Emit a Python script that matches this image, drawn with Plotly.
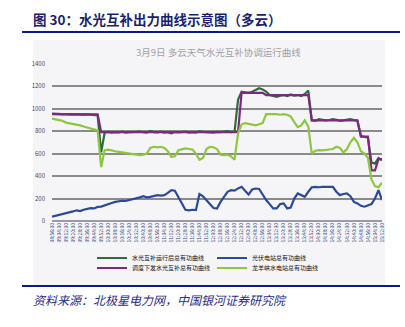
import pandas as pd
import plotly.graph_objects as go

# ---- data (4-minute samples, 08:56 - 15:12) ----
times = pd.date_range("2019-03-09 08:56:00", periods=95, freq="4min")

total_actual = [950, 948, 952, 947, 950, 945, 948, 950, 946, 944, 948, 945, 943, 940, 610,
                785, 792, 786, 790, 788, 795, 785, 790, 788, 792, 795, 790, 785, 800, 790,
                788, 795, 786, 790, 780, 792, 788, 790, 795, 786, 790, 785, 800, 792, 788,
                790, 785, 792, 790, 795, 800, 790, 795, 1080, 1150, 1145, 1140, 1150, 1165, 1180,
                1170, 1150, 1120, 1110, 1105, 1115, 1120, 1110, 1125, 1115, 1120, 1110, 1130, 1160, 895,
                890, 905, 900, 895, 898, 905, 900, 890, 895, 900, 905, 898, 890, 755, 745,
                740, 520, 510, 560, 540]

pv = [38, 45, 55, 60, 70, 75, 85, 95, 88, 100, 110, 115, 112, 125, 128,
      140, 155, 160, 170, 175, 180, 178, 185, 195, 205, 210, 220, 210, 214, 225,
      230, 225, 230, 250, 275, 270, 215, 150, 100, 95, 100, 98, 240, 220, 186,
      150, 115, 110, 170, 215, 260, 274, 270, 290, 304, 270, 235, 280, 289, 285,
      230, 186, 150, 112, 112, 150, 156, 112, 120, 200, 245, 230, 215, 260, 300,
      304, 300, 304, 302, 300, 304, 260, 230, 240, 245, 220, 170, 156, 135, 127,
      140, 150, 200, 274, 186]

plan = [955, 952, 950, 950, 950, 950, 950, 950, 950, 950, 950, 948, 948, 948, 790,
        790, 790, 790, 790, 790, 790, 790, 790, 790, 790, 790, 790, 790, 790, 790,
        790, 790, 790, 790, 790, 790, 790, 790, 790, 790, 790, 790, 790, 790, 790,
        790, 790, 790, 790, 790, 790, 790, 790, 790, 1140, 1140, 1140, 1140, 1140, 1140,
        1140, 1120, 1120, 1120, 1120, 1120, 1120, 1120, 1120, 1120, 1120, 1120, 1120, 1120, 895,
        895, 895, 895, 895, 895, 895, 895, 895, 895, 895, 895, 895, 895, 750, 750,
        750, 450, 450, 550, 550]

hydro = [910, 905, 895, 890, 875, 870, 862, 858, 850, 840, 832, 825, 815, 805, 480,
         630, 635, 625, 620, 615, 610, 605, 600, 590, 585, 585, 590, 600, 650, 660,
         655, 660, 650, 620, 570, 575, 630, 640, 645, 640, 635, 600, 545, 560, 640,
         660, 655, 640, 590, 585, 590, 575, 545, 780, 860, 870, 865, 855, 850, 860,
         870, 950, 950, 955, 950, 945, 950, 945, 930, 880, 835, 850, 895, 840, 600,
         625, 630, 628, 632, 630, 640, 660, 650, 610, 640, 700, 740, 700, 620, 600,
         560, 370, 310, 300, 340]

names = ["水光互补运行后总有功曲线", "光伏电站总有功曲线",
         "调度下发水光互补总有功曲线", "龙羊峡水电站总有功曲线"]
colors = ["#2f6b3c", "#2b4a9c", "#7d2a7e", "#8dc63f"]

y_ticks = [0, 200, 400, 600, 800, 1000, 1200, 1400]

FONT = "Noto Sans CJK SC"

fig = go.Figure()
fig.add_trace(go.Scatter(x=times, y=total_actual, name=names[0], mode="lines",
                         line=dict(color=colors[0], width=2.2), legend="legend"))
fig.add_trace(go.Scatter(x=times, y=pv, name=names[1], mode="lines",
                         line=dict(color=colors[1], width=2.2), legend="legend"))
fig.add_trace(go.Scatter(x=times, y=plan, name=names[2], mode="lines",
                         line=dict(color=colors[2], width=2.2), legend="legend2"))
fig.add_trace(go.Scatter(x=times, y=hydro, name=names[3], mode="lines",
                         line=dict(color=colors[3], width=2.2), legend="legend2"))

W, H = 405, 327
L, R, T, B = 52, 23, 63, 106
pw, ph = W - L - R, H - T - B


def px(x):
    return (x - L) / pw


def py(y):
    return (H - B - y) / ph


legend_common = dict(orientation="h", xanchor="left", yanchor="middle",
                     font=dict(family=FONT, size=6, color="#111"),
                     bgcolor="rgba(0,0,0,0)", itemwidth=30,
                     entrywidth=75, entrywidthmode="pixels",
                     tracegroupgap=0, itemclick=False)

fig.update_layout(
    width=W, height=H,
    margin=dict(l=L, r=R, t=T, b=B, autoexpand=False),
    paper_bgcolor="white",
    plot_bgcolor="rgba(0,0,0,0)",
    font=dict(family=FONT),
    showlegend=True,
    legend=dict(x=px(92), y=py(258), **legend_common),
    legend2=dict(x=px(92), y=py(268), **legend_common),
    xaxis=dict(type="date", range=[times[0], times[-1]],
               tick0=times[0], dtick=8 * 60 * 1000, tickformat="%H:%M:%S",
               tickangle=-90, tickfont=dict(size=5, color="#3a4a7a", family=FONT),
               showgrid=False, showline=False, zeroline=False, ticks=""),
    yaxis=dict(range=[0, 1405], tickvals=y_ticks,
               tickfont=dict(size=6, color="#3a4a7a", family=FONT),
               showgrid=True, gridcolor="#8a8a8a", gridwidth=1.6,
               zeroline=True, zerolinecolor="#9a9aa8", zerolinewidth=1.6,
               showline=False, ticks="", ticklabelstandoff=6),
    shapes=[
        dict(type="rect", xref="paper", yref="paper",
             x0=px(33), x1=px(385), y0=py(285), y1=py(40),
             fillcolor="#f5f5f7", line=dict(width=0), layer="below"),
        dict(type="line", xref="paper", yref="paper",
             x0=px(22), x1=px(400), y0=py(32), y1=py(32),
             line=dict(color="#0a1a8c", width=2)),
        dict(type="line", xref="paper", yref="paper",
             x0=px(22), x1=px(400), y0=py(286), y1=py(286),
             line=dict(color="#0a1a8c", width=2)),
    ],
    annotations=[
        dict(text="<b>图 30：水光互补出力曲线示意图（多云）</b>", xref="paper", yref="paper",
             x=px(31), y=py(19), xanchor="left", yanchor="middle", showarrow=False,
             font=dict(family=FONT, size=13.5, color="#1c1f6e")),
        dict(text="3月9日 多云天气水光互补协调运行曲线", xref="paper", yref="paper",
             x=px(218), y=py(52), xanchor="center", yanchor="middle", showarrow=False,
             font=dict(family=FONT, size=9.5, color="#a0a0a8")),
        dict(text="<i>资料来源：北极星电力网，中国银河证券研究院</i>", xref="paper", yref="paper",
             x=px(31), y=py(299), xanchor="left", yanchor="middle", showarrow=False,
             font=dict(family=FONT, size=12, color="#2a2a8c")),
    ],
)

fig.write_html("out.html")
